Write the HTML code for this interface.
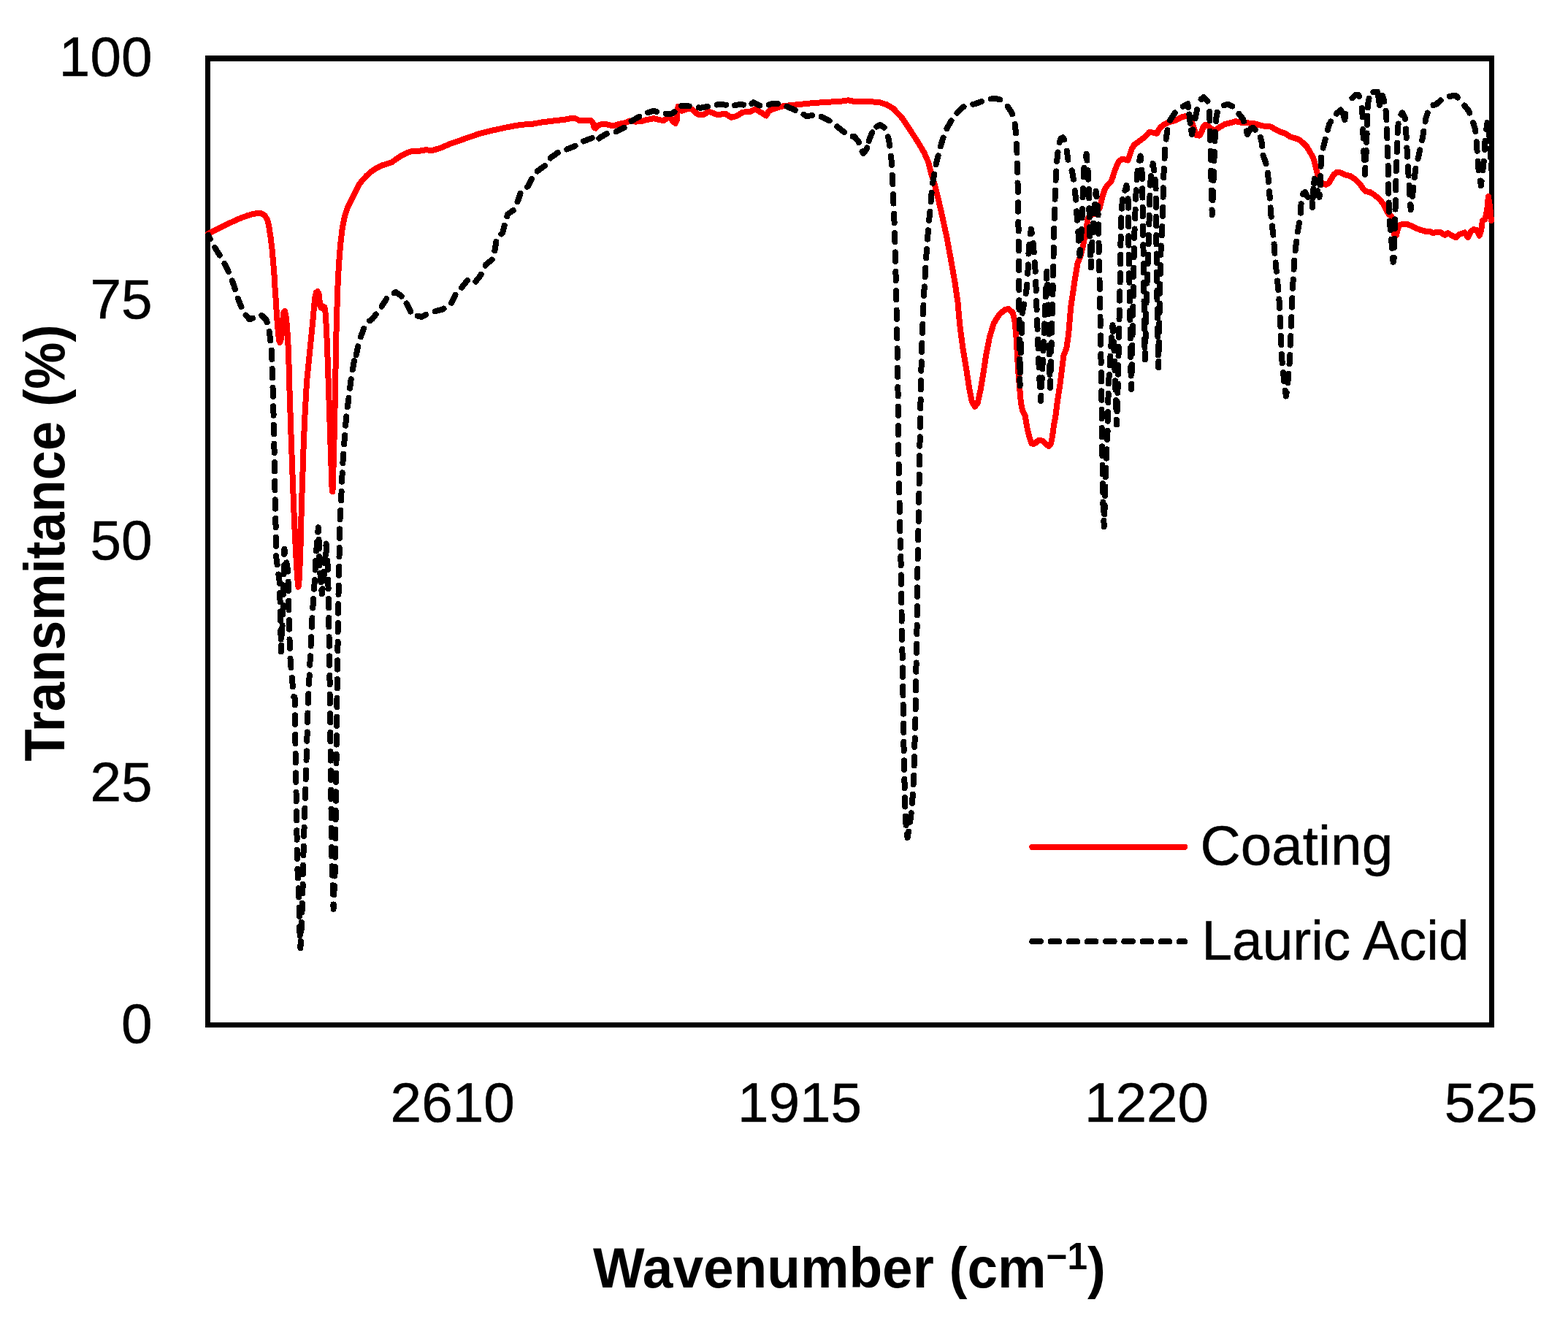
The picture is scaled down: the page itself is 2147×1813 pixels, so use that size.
<!DOCTYPE html>
<html lang="en">
<head>
<meta charset="utf-8">
<title>FTIR transmittance spectra</title>
<style>
html,body{margin:0;padding:0;background:#fff;}
body{width:2147px;height:1813px;overflow:hidden;}
svg{display:block;}
</style>
</head>
<body>
<svg width="2147" height="1813" viewBox="0 0 2147 1813" role="img" aria-label="FTIR transmittance spectra of coating and lauric acid">
<rect x="0" y="0" width="2147" height="1813" fill="#fff"/>
<g fill="#000" shape-rendering="crispEdges"><rect x="281" y="76" width="1765" height="8"/><rect x="281" y="1400" width="1765" height="7"/><rect x="281" y="76" width="7" height="1331"/><rect x="2039" y="76" width="7" height="1331"/></g>
<g fill="none" stroke-linejoin="round" stroke-linecap="round" shape-rendering="crispEdges">
<path d="M285.2 320.1L297.2 313.9L311.6 306.7L327.4 299.5L337.4 295.7L346.1 293.1L353.2 291.9L358.3 292.4L362.6 295.2L366.2 301.0L368.3 310.3L370.5 324.7L372.6 341.9L374.1 359.1L375.5 376.4L376.5 393.6L377.7 410.8L378.8 428.1L379.8 442.4L381.0 456.8L382.2 466.9L383.4 469.0L385.1 464.0L386.3 451.1L387.3 436.7L388.4 427.4L389.9 425.9L391.3 430.9L392.7 443.9L393.7 458.2L394.6 474.0L395.3 487.0L395.7 508.7L396.6 537.4L398.5 594.9L400.6 652.3L402.8 709.8L404.9 753.1L407.2 791.9L408.5 803.6L409.8 791.9L411.4 753.1L412.8 695.4L414.3 652.3L415.7 609.2L417.6 566.2L420.0 523.1L424.3 479.8L426.5 458.2L428.6 436.7L430.1 419.5L431.5 406.5L432.9 400.5L434.8 399.1L436.5 402.2L437.4 409.4L438.1 418.0L439.7 421.6L442.3 419.5L444.4 420.6L445.9 430.9L446.9 451.1L448.0 472.6L448.9 501.5L449.7 523.1L451.6 580.5L453.0 623.6L454.5 666.7L455.2 673.2L455.9 666.7L456.9 623.6L458.1 580.5L459.2 523.1L460.2 465.4L461.2 429.5L462.4 393.6L463.8 364.9L466.0 336.2L468.8 311.8L472.4 294.5L476.7 282.3L482.5 271.5L490.7 254.2L496.0 247.0L502.0 240.6L507.5 235.6L513.4 231.5L519.0 228.4L524.7 225.9L530.0 224.4L536.1 222.4L541.5 218.6L547.4 214.5L553.0 211.4L558.7 208.8L564.5 206.8L571.5 207.2L583.0 205.3L592.6 205.9L604.0 202.4L615.5 197.3L627.0 193.4L640.4 188.5L655.7 183.3L674.9 178.5L694.0 174.3L713.2 170.8L728.5 169.9L741.9 167.4L761.1 165.1L774.5 163.6L782.1 161.8L787.9 162.2L793.6 165.1L801.3 165.5L808.9 165.1L811.8 168.0L813.7 174.7L815.6 175.6L818.5 171.8L824.2 169.9L831.9 170.5L839.6 172.4L847.2 169.9L854.9 168.5L862.5 165.5L870.2 166.6L877.9 166.1L885.5 164.1L895.1 162.2L902.7 164.1L908.5 165.1L914.2 161.3L918.1 160.3L920.9 166.1L924.8 168.9L926.7 165.1L927.6 153.6L928.6 146.0L933.4 151.7L939.1 150.2L940.0 147.9L947.7 149.8L955.3 156.5L963.0 157.1L970.6 152.7L982.1 157.1L993.6 155.9L1001.3 160.9L1007.0 159.4L1012.8 156.5L1016.6 153.6L1026.2 153.2L1033.8 149.4L1041.5 153.6L1049.1 158.4L1053.0 151.7L1062.5 147.9L1074.0 145.0L1093.2 143.1L1112.3 141.2L1131.5 139.8L1150.6 138.9L1161.2 137.3L1169.8 138.9L1188.9 138.9L1204.2 140.2L1213.8 143.1L1223.4 148.8L1234.9 161.3L1246.4 178.5L1255.9 192.9L1265.5 209.1L1271.3 222.5L1275.1 237.9L1279.9 253.2L1284.7 272.3L1290.4 297.2L1296.2 324.0L1301.9 354.7L1307.6 387.2L1311.5 414.0L1312.8 429.6L1314.7 448.7L1318.5 477.4L1323.3 506.2L1327.1 531.1L1330.9 550.2L1334.8 556.9L1338.6 552.1L1342.4 534.9L1346.3 511.9L1350.1 487.0L1354.9 462.1L1360.6 443.0L1368.3 430.5L1375.9 424.2L1380.7 422.9L1386.5 427.7L1389.3 439.1L1391.3 458.3L1392.8 483.2L1394.1 506.2L1396.1 531.1L1398.0 552.1L1399.9 561.7L1403.7 569.4L1406.6 586.6L1409.5 598.1L1412.1 606.9L1414.9 608.0L1417.9 606.7L1421.4 603.3L1424.4 602.6L1428.3 604.1L1432.6 608.4L1436.0 611.0L1439.0 607.6L1440.7 599.0L1442.0 590.3L1443.3 580.0L1444.9 573.2L1447.8 550.2L1451.6 525.3L1454.5 502.3L1456.4 487.0L1460.2 477.4L1463.1 458.3L1466.2 420.6L1471.3 386.2L1475.6 360.3L1479.1 351.7L1483.4 334.5L1486.8 317.2L1489.4 300.0L1492.0 295.3L1500.6 291.8L1505.8 284.9L1509.2 270.3L1512.7 259.1L1516.1 253.9L1521.3 248.8L1523.9 241.9L1526.5 233.2L1529.1 227.2L1532.5 220.3L1536.8 217.7L1541.1 218.6L1544.6 219.5L1547.2 211.7L1549.7 203.9L1553.2 197.9L1557.5 195.3L1567.8 187.4L1573.5 181.1L1580.4 181.7L1583.9 182.8L1588.5 174.8L1594.2 170.2L1601.1 167.3L1610.3 164.5L1618.3 160.4L1624.1 158.7L1628.7 161.0L1632.1 167.9L1635.6 178.3L1637.9 185.1L1642.5 185.7L1645.3 180.6L1647.6 173.7L1650.5 170.8L1653.9 172.5L1658.5 176.0L1663.1 179.4L1668.9 174.8L1676.9 170.2L1683.8 168.5L1691.9 166.2L1697.6 167.3L1700.0 167.8L1709.2 168.4L1718.4 169.5L1728.7 172.4L1740.2 173.5L1746.0 177.0L1752.8 180.4L1759.7 182.7L1766.6 187.3L1772.4 189.0L1778.1 190.8L1783.9 195.4L1789.6 201.1L1794.2 209.1L1797.7 214.9L1800.5 224.1L1802.8 233.3L1805.1 242.5L1808.0 248.2L1811.4 251.7L1816.0 252.8L1819.5 250.5L1822.9 244.8L1826.4 239.0L1831.0 235.6L1836.7 236.7L1842.5 239.6L1849.4 241.3L1856.2 245.9L1862.0 251.7L1866.6 258.5L1870.0 262.0L1875.8 263.1L1881.5 266.6L1888.4 272.3L1894.2 279.2L1897.2 285.7L1901.5 293.4L1905.0 296.0L1906.7 302.0L1907.6 313.2L1909.3 321.9L1911.9 321.9L1914.0 313.2L1916.2 308.1L1920.5 306.8L1926.5 306.8L1931.7 308.9L1938.6 312.4L1945.5 315.0L1953.2 317.1L1958.4 317.1L1962.7 319.3L1967.0 317.5L1973.1 318.4L1978.2 321.9L1982.5 319.3L1987.7 322.3L1993.7 325.3L1998.0 321.0L2005.8 318.4L2010.1 325.3L2013.6 317.5L2017.9 314.1L2022.2 315.0L2025.6 322.7L2028.2 315.8L2029.9 302.0L2033.4 300.3L2036.1 288.3L2037.9 269.1L2040.1 283.1L2042.0 302.0L2042.0 299.5" stroke="#f00" stroke-width="8"/>
<path d="M285.2 321.8L287.9 327.4M294.2 339L298.7 346.2L300.7 349.5M307.4 360.9L311.6 369.2L312.8 372M317.8 384.3L320.2 390.7L321.8 396M325.8 408.6L329.5 418L330.4 420.1M336.6 431.6L341.8 437.4L346.1 435.7M358.2 431.8L364.7 438.1L365.6 441.3M368.7 454.1L370.2 465.4L370.3 466.4M371.9 479.6L371.9 479.8L372.3 491.9M372.7 505.1L373.1 517.5M373.5 530.7L373.9 543.1M374.2 556.3L374.5 566.2L374.6 568.7M374.8 581.9L375.1 594.3M375.4 607.5L375.4 609.2L375.6 619.9M375.8 633.1L376.1 645.5M376.3 658.7L376.5 671.1M376.7 684.3L376.9 695.4L376.9 696.7M377.3 709.9L377.6 722.3M377.8 735.5L377.8 747.9M378 761.1L379.6 773.4M381.4 786.5L382.7 796.2L382.8 798.8M383.2 812L383.6 824.4M384 837.6L384.1 839.2L384.2 850M384.4 863.2L384.6 875.6M384.8 888.8L384.8 892.4L385.2 883.6M386 868.6L386.6 856.2M387.3 841.2L387.4 839.2L387.6 828.8M388 813.8L388.3 801.4M388.6 786.3L388.9 774M389.2 758.9L389.4 751.6L390.2 756.6M392.4 770.4L394.2 781.8L394.2 782.6M394.6 796.5L394.9 808.9M395.2 822.9L395.5 835.3M395.8 849.2L396.1 861.6M396.5 875.5L396.8 887.9M397.5 901.8L398.5 914.1M399.8 928L400.9 940.4M402.2 954.1L403.5 954.4L403.7 965.5M403.9 979.4L404.1 991.8M404.3 1005.7L404.5 1018.1M404.7 1032.1L404.9 1044.5M405.1 1058.4L405.3 1070.8M405.5 1084.7L405.7 1097.1M406 1111L406.1 1123.4M406.4 1137.3L406.6 1149.7M406.8 1163.7L407 1176.1M407.4 1190L408 1202.4M408.7 1216.3L409.2 1227.4L409.2 1228.6M409.6 1242.6L409.9 1255M410.3 1268.9L410.6 1281.3M411.2 1295.2L411.4 1298.2L411.9 1288.8M412.5 1275.2L412.9 1262.8M413.5 1249.2L413.9 1236.8M414.4 1223.1L414.6 1210.7M414.8 1197.1L415 1184.7M415.4 1171L415.8 1158.6M416.2 1145L416.6 1132.6M417 1119L417.4 1106.6M417.9 1092.9L418.2 1080.5M418.7 1066.9L419.1 1054.5M419.5 1040.8L419.9 1028.4M420.3 1014.8L420.7 1002.4M421.1 988.8L421.5 976.4M421.9 962.7L422.2 954.4L422.4 950.3M423.1 936.7L423.7 924.3M424.3 910.7L424.9 898.3M425.6 884.6L426.2 872.3M426.9 858.6L427.5 846.2M428.3 832.6L429.2 820.2M430.1 806.6L430.8 796.2L430.9 794.2M431.6 780.6L432.2 768.2M433.2 754.6L434.1 742.2M435.3 728.6L435.8 722.2L436.1 728.1M436.5 738.9L436.8 745.9L436.9 751.3M437.2 762L437.5 774.4M438.4 785.1L439.4 796.2L439.5 797.5M440.4 808.2L440.8 813.4L441.7 806.3M443.1 794.9L444 782.6M444.9 771.2L445.2 767.4L445.7 758.8M446.4 747.4L446.6 744.5L447.3 754M448.2 767.7L448.7 774.6L448.9 780.1M449.2 793.8L449.5 803.3L449.6 806.2M449.8 820L450.1 832.4M450.3 846.1L450.4 858.5M450.6 872.3L450.8 884.7M450.9 898.4L451.1 910.8M451.4 924.6L451.6 937M451.7 950.8L451.9 963.2M452 976.9L452.2 989.3M452.3 1003.1L452.5 1015.5M452.6 1029.2L452.8 1041.6M452.9 1055.4L453.1 1067.8M453.2 1081.5L453.4 1093.9M453.5 1107.7L453.7 1120.1M453.8 1133.9L454 1146.3M454.2 1160L454.3 1172.4M454.5 1186.2L454.5 1190L454.9 1198.6M455.5 1212.3L455.5 1213.1L455.9 1224.7M456.4 1238.4L456.6 1244.7L456.8 1238.6M457.3 1225.3L457.8 1213.1L457.8 1212.9M458.4 1199.6L458.8 1190L458.8 1187.2M459 1173.9L459.1 1161.5M459.3 1148.1L459.4 1135.7M459.6 1122.4L459.7 1110M459.9 1096.7L460 1084.3M460.2 1071L460.3 1058.6M460.5 1045.3L460.6 1032.9M460.8 1019.6L460.9 1007.2M461.1 993.9L461.2 981.5M461.4 968.2L461.5 955.8M461.7 942.4L461.7 940L461.8 930M462 916.7L462.2 904.3M462.4 891L462.6 878.6M462.7 865.3L462.9 852.9M463.1 839.6L463.1 839.2L463.3 827.2M463.5 813.9L463.8 801.5M464 788.2L464.2 775.8M464.5 762.5L464.7 750.1M464.9 736.8L465.1 724.4M465.5 711.1L466.3 698.7M467.1 685.4L467.6 673M468.1 659.7L468.1 659.5L468.7 647.3M469.4 634L469.6 630.8L470.3 621.6M471.2 608.4L471.7 602.1L472.2 596M473.2 582.7L473.9 573.3L474.3 570.4M475.9 557.2L477.5 544.9M479.1 531.7L480.7 519.3M482.8 506.2L485 494M487.6 486.4L490.3 474.3M493.9 461.4L494 461.1L498.2 449.8M506.2 439.3L509.8 436.7L514.7 430.5M522.6 419.7L522.7 419.5L529.2 409.2M539.6 401.2L542.1 400.1L548.5 404.4L549.8 405.8M556.6 415.4L557.9 418L562.1 426.5M571.7 432.7L577.3 433.8L583.3 430.9M595.7 426.4L606 423.6L607.5 422.6M618 414.8L623.5 403.7M632.1 393.7L632.8 393L639.9 384.1M651.3 385.6L657.7 377.6L658.7 375.7M664.6 363.8L665.3 362.3L673.7 355.6M677.4 343.3L677.8 341.3L679.3 331M686.4 320.4L688.3 318.3L690.7 309M694.2 296.2L695 293.4L702.8 288.1M708.5 276.3L709.4 274.2L712.6 264.6M722 255.7L722.8 255.1L727.9 244.9M735.9 234.4L736.2 234L745.9 227M753.9 216.5L754.4 215.8L763.7 209.1M776.1 204.5L776.4 204.4L787.5 199.8M799.1 193.4L799.3 193.3L810.7 189M820.3 189.6L822.3 188.1L830.8 183M843.6 180.3L854.7 174.8M864.6 166L874 160.3L875.3 159.7M887.2 154.1L895.1 151.7L899.1 153M911.9 155.8L920 155.5L923.5 153.1M933.2 145L941 145L940 145L943.6 145.4M956.7 147.4L959.1 147.9L968.8 145.8M981.8 143.5L984 143.1L994.2 143.6M1005.9 144.3L1007 143.7L1016.6 143.1L1018.1 143.6M1029.5 142L1031.9 140.2L1039.6 144.4L1040.2 144.5M1052.7 143.5L1054.9 142.5L1064.9 142.2M1077.4 145.8L1077.9 146L1087.4 150.2L1088.8 150.8M1100.5 156.8L1104.7 159.4L1112 157.9M1124.7 160L1125.7 160.3L1135.8 165.4M1146.3 173.3L1146.8 173.7L1156 181.1M1167.6 186.8L1169.8 187.1L1175.5 193.8L1175.9 195.1M1180.6 207.4L1182.2 210.1L1187 203.4L1187.2 202.4M1189.7 192.8L1189.9 191.9L1193.7 182.3L1194.3 181.3M1200.3 173.6L1205.2 170.8L1210.7 174.7M1215.9 187.5L1216.7 190L1218.3 199.6M1219.9 213.5L1220.5 218.7L1220.9 225.9M1221.8 239.8L1221.9 241.7L1222.3 252.2M1222.9 266.2L1223 268.5L1223.5 278.6M1224.1 292.6L1224.3 297.2L1224.6 305M1225.1 319L1225.3 325.9L1225.4 331.4M1225.7 345.4L1225.9 352.8L1226 357.8M1226.4 371.7L1226.6 379.6L1226.7 384.1M1227 398.1L1227.2 406.4L1227.3 410.5M1227.6 424.5L1227.8 436.9M1228 450.9L1228.3 463.3M1228.5 477.3L1228.5 477.4L1228.7 489.7M1229 503.7L1229.2 516.1M1229.4 530.1L1229.5 534.9L1229.6 542.5M1229.7 556.5L1229.8 568.9M1229.9 582.9L1230 592.3L1230 595.3M1230.2 609.3L1230.4 621.7M1230.6 635.7L1230.8 648.1M1231.1 662.1L1231.3 674.5M1231.6 688.5L1231.9 700.9M1232.2 714.9L1232.4 727.3M1232.7 741.3L1232.9 749.9L1232.9 746.1M1233 743.4L1233 740L1233.2 749M1233.4 762L1233.6 774.4M1233.8 787.4L1234 797.4L1234 799.8M1234.2 812.8L1234.3 825.2M1234.5 838.2L1234.6 850.6M1234.9 863.6L1235.1 876M1235.4 889L1235.7 901.4M1235.9 914.4L1236.1 926.8M1236.3 939.8L1236.5 952.2M1236.7 965.2L1236.9 977L1236.9 977.6M1237.1 990.6L1237.3 1003M1237.4 1016L1237.6 1027.4L1237.6 1028.4M1237.9 1041.4L1238.2 1053.8M1238.4 1066.8L1238.7 1079.2M1239 1092.2L1239.3 1104.6M1239.7 1117.6L1239.8 1120.8L1240.6 1129.9M1241.8 1142.9L1241.9 1144.5L1242.6 1146.9L1244.1 1138.8M1246.1 1125.6L1247.7 1113.6L1247.7 1113.3M1248.9 1100L1249.8 1089.2L1249.9 1087.6M1250.6 1074.3L1251.2 1063.3L1251.2 1061.9M1251.6 1048.5L1252 1036.1M1252.3 1022.8L1252.7 1010.4M1253 997L1253.4 984.7M1253.6 971.3L1253.8 958.9M1254 945.5L1254.1 941.1L1254.2 933.1M1254.4 919.8L1254.6 907.4M1254.9 894L1255.1 881.6M1255.4 868.3L1255.6 855.9M1255.7 842.5L1255.8 830.1M1255.9 816.8L1256 804.6L1256 804.4M1256.2 791L1256.5 778.6M1256.7 765.3L1256.9 752.9M1257.2 739.5L1257.4 727.1M1257.7 713.8L1257.9 701.4M1258.2 688L1258.4 675.6M1258.6 662.2L1258.8 649.8M1259 636.5L1259.1 630.6L1259.2 624.1M1259.4 610.7L1259.7 598.3M1259.9 585L1260.1 573.2L1260.1 572.6M1260.3 559.2L1260.6 546.8M1260.8 533.5L1261 521.1M1261.4 507.7L1261.7 495.3M1262.2 482L1262.5 469.6M1263 456.2L1263.4 443.8M1263.9 430.5L1263.9 429.6L1264.5 418.1M1265.1 404.8L1265.5 396.8L1265.8 392.4M1266.6 379L1267.3 366.7M1268.1 353.3L1269 341M1269.9 327.6L1271 315.3M1272.1 302L1272.2 301.1L1273.3 289.6M1274.6 276.3L1275.6 264M1277.2 250.7L1278.9 239.8L1279.1 238.5M1281.6 225.4L1281.8 224.5L1284.6 213.3M1288 200.4L1290.4 191.9L1291.6 188.5M1296.5 176.1L1301.9 166.1L1302.5 165.3M1310.5 154.6L1318.2 146.9L1319.6 146.3M1332.2 142.7L1334.4 142.5L1344 139M1356.9 135.5L1357 135.5L1364 135L1369.1 136.4M1379.8 145.7L1385.8 155.3L1386.1 156.3M1389.7 170.2L1391.1 182.5M1391.9 196.9L1392.5 209.3M1392.9 223.7L1393.2 236.1M1393.5 250.5L1393.8 262.9M1394.1 277.3L1394.2 289.7M1394.4 304.1L1394.6 316.5M1394.8 330.9L1395 343.3M1395.1 357.7L1395.2 370.1M1395.2 384.5L1395.3 396.9M1395.4 411.3L1395.5 423.7M1395.6 438.1L1395.7 450.5M1395.8 464.9L1395.8 470L1395.9 477.3M1396.1 491.7L1396.2 504.1M1396.4 518.5L1396.6 528L1396.7 525.1M1397 510.3L1397.2 500L1397.3 497.9M1397.8 483.1L1398.3 470.7M1398.8 455.9L1399.3 443.5M1399.9 428.7L1402 416.5M1404.6 401.9L1405.8 394.8L1406.2 389.6M1407.2 374.8L1407.6 368.9L1407.8 362.4M1408.4 347.6L1408.4 347.4L1409.4 335.2M1410.9 320.5L1411.9 313.8L1412.8 319.4M1414.7 333.1L1415.7 345.5M1416.8 359.4L1417.5 368.9L1417.6 371.8M1418.3 385.7L1418.3 386.2L1418.7 398.1M1419.2 412L1419.6 424.4M1420.1 438.3L1420.6 450.7M1421.1 464.7L1421.6 477M1422.2 491L1422.5 500L1422.7 503.4M1423.3 517.3L1423.9 529.7M1424.7 543.6L1425 549L1425.4 542M1426.1 529.8L1426.7 517.4M1427.3 505.1L1427.5 500L1427.9 492.7M1428.5 480.4L1429.1 468M1429.7 455.8L1430 450L1430.2 443.4M1430.7 431.1L1431.2 418.7M1431.7 406.4L1432.3 394M1432.9 381.7L1433.4 372L1433.5 374.7M1434.2 389.9L1434.8 402.3M1435.4 417.5L1435.7 429.9M1436.1 445.2L1436.2 450L1436.4 457.6M1436.7 472.9L1436.9 485.3M1437.2 500.5L1437.5 512.9M1437.9 528.2L1438 531L1438.2 521.4M1438.6 507.7L1438.8 500L1438.9 495.3M1439.3 481.6L1439.7 469.3M1440 455.6L1440.2 450L1440.4 443.2M1440.8 429.5L1441.1 417.1M1441.4 403.4L1441.7 391M1441.9 377.3L1442 373.2L1442.2 364.9M1442.5 351.2L1442.7 338.8M1442.9 325.1L1443.3 312.7M1443.8 299L1443.8 297.9L1444.1 286.6M1444.5 272.9L1445 260.5M1445.5 246.9L1445.5 246.2L1446.3 234.5M1447.2 220.8L1447.2 220.3L1448.5 208.5M1450.6 195L1450.7 194.5L1452.8 189.3L1455.4 188.3L1457.2 191.3M1460.7 206.6L1461 208.3L1461.9 215.1L1462.5 218.8M1467.6 233.5L1467.9 234.1L1469.9 245.6M1471.7 261.3L1471.8 261.7L1473.1 272L1473.2 273.6M1474.1 289.3L1474.8 297.9L1475.1 301.6M1476.3 317.3L1476.5 320L1477.1 329.7M1478.2 345.4L1478.5 350L1479.1 342.3M1480.1 326.5L1480.5 320L1480.8 314.1M1481.5 298.4L1481.9 286M1482.5 270.3L1483 257.9M1483.7 242.1L1484.5 229.7M1486.8 214.2L1487.7 210.8L1488.5 219.6M1489.6 233.2L1490.2 245.6M1490.8 259.2L1491.2 271.5M1491.4 285.2L1491.6 293.6L1491.7 297.5M1492 311.2L1492.2 320L1492.3 323.6M1492.7 337.2L1493 349.5M1493.6 363.1L1493.7 366.5L1494.1 357.5M1494.8 344L1495.4 331.6M1496.2 318.1L1497.1 305.7M1498.2 292.3L1499.3 280.6L1499.3 279.9M1500.3 266.5L1500.6 261.7L1501.6 269.3M1503.2 282.1L1503.6 294.5M1504 307.4L1504.1 310L1504.1 317.2L1504.2 319.8M1504.5 332.7L1504.7 345.1M1505 358.1L1505.3 370.5M1505.5 383.4L1505.8 395.8M1506.1 408.7L1506.3 421.1M1506.5 434.1L1506.6 446.5M1506.9 459.4L1507.1 471.8M1507.4 484.7L1507.5 491.7L1507.6 497.1M1507.8 510.1L1508 522.5M1508.3 535.4L1508.4 543.4L1508.4 547.8M1508.5 560.8L1508.6 573.2M1508.7 586.1L1508.8 597.2L1508.8 598.5M1509 611.4L1509.3 623.8M1509.5 636.8L1509.7 648.9L1509.7 649.2M1509.9 662.1L1510.2 674.5M1510.4 687.4L1510.5 692L1510.8 699.8M1511.4 712.8L1511.7 721.3L1511.8 717.5M1512.3 704.3L1512.7 692L1512.7 691.9M1513.1 678.8L1513.5 666.4M1513.9 653.2L1514 648.9L1514.4 640.8M1514.9 627.7L1515.5 615.3M1516 602.1L1516.6 589.8M1516.8 576.6L1517.1 564.2M1517.4 551.1L1517.6 538.7M1517.9 525.5L1518.8 513.1M1519.6 500L1520.4 487.6M1521.3 474.5L1522.2 462.1M1523.2 449L1523.5 445.2L1524 453.8M1524.8 468L1525.5 480L1525.5 480.4M1526.1 494.7L1526.5 507.1M1527 521.4L1527.4 533.7M1527.9 548L1528.3 560L1528.3 560.4M1528.8 574.7L1529 581.5L1529.2 575.9M1529.7 563.1L1529.8 560L1530 550.7M1530.4 537.9L1530.7 525.5M1530.9 512.6L1531.2 500.2M1531.5 487.4L1531.7 475M1532 462.2L1532.2 449.8M1532.5 437L1532.6 430L1532.7 424.6M1533 411.7L1533.3 400L1533.3 399.3M1533.6 386.5L1533.8 374.1M1534.1 361.3L1534.2 348.9M1534.4 336L1534.5 331L1534.6 323.6M1534.8 310.8L1535 302L1535.2 298.4M1536.1 285.6L1536.9 273.2M1540.4 260.9L1542.5 254L1543.1 259.1M1544.5 272.2L1544.8 275L1544.9 284.6M1545 297.8L1545.2 310.2M1545.3 323.3L1545.4 331L1545.5 335.7M1545.7 348.9L1545.9 361.3M1546.2 374.4L1546.5 386.8M1546.8 400L1546.8 400L1547 412.4M1547.2 425.5L1547.4 437.9M1547.6 451.1L1547.8 463.5M1548 476.6L1548.1 489M1548.3 502.2L1548.6 514.6M1548.9 527.8L1549 533L1549.2 525.9M1549.5 511.7L1549.8 500L1549.8 499.3M1550.1 485.1L1550.3 472.7M1550.6 458.6L1550.8 450L1550.9 446.2M1551.2 432L1551.4 419.6M1551.7 405.5L1551.8 400L1551.9 393.1M1552.2 378.9L1552.4 366.5M1552.6 352.4L1552.8 340M1553.2 325.8L1553.6 313.4M1554.2 299.3L1554.5 290L1554.6 286.9M1555.2 272.7L1555.7 260.3M1556.7 246.2L1557.5 235L1557.7 233.9M1560.3 219.9L1561.5 213.5L1562 219.3M1563.3 232.6L1563.5 235L1563.8 245M1564.2 258.2L1564.3 260L1564.5 270.6M1564.7 283.9L1564.8 296.3M1565 309.6L1565.2 322M1565.4 335.3L1565.5 340L1565.6 347.7M1565.8 361.1L1565.9 373.4M1566.1 386.8L1566.3 399.2M1566.5 412.5L1566.6 424.9M1566.8 438.2L1567 450L1567 450.6M1567.3 463.9L1567.5 476.3M1567.7 489.6L1567.8 492.5L1568 483M1568.4 468.6L1568.7 456.2M1569 441.7L1569.3 429.3M1569.6 414.8L1569.9 402.4M1570.5 387.9L1571 375.5M1571.6 361.1L1572.1 348.7M1572.6 334.2L1572.9 321.8M1573.4 307.3L1573.6 300L1573.7 294.9M1574.1 280.4L1574.5 268M1575.1 253.6L1575.9 241.2M1578.2 226.9L1578.7 224L1580.2 233.4M1581.7 246.2L1582.6 258.5M1582.8 271.5L1582.9 283.9M1583 296.8L1583 300L1583.1 309.2M1583.3 322.1L1583.4 334.5M1583.6 347.4L1583.8 359.8M1583.9 372.7L1584.1 385.1M1584.3 398L1584.3 400L1584.5 410.4M1584.7 423.3L1584.9 435.7M1585.2 448.7L1585.2 450L1585.4 461.1M1585.6 474L1585.9 486.4M1586.1 499.3L1586.2 503.3L1586.4 494.9M1586.6 480.9L1586.9 468.5M1587.1 454.5L1587.2 450L1587.4 442.1M1587.7 428.1L1588 415.7M1588.3 401.7L1588.3 400L1588.5 389.3M1588.8 375.3L1589.1 362.9M1589.4 348.9L1589.6 340L1589.8 336.5M1590.7 322.5L1591.4 310.1M1592 296.1L1592.3 283.7M1592.6 269.7L1592.8 257.3M1593.2 243.3L1593.8 230.9M1594.5 216.9L1595.1 204.5M1596.6 190.6L1598.5 178.3M1602.1 164.8L1602.2 164.5L1608.9 154.5M1619.8 145.8L1624.1 143.2L1626.4 142.1L1627.1 146.9M1628.4 156.5L1629.7 168.8M1631.2 178.4L1632.1 184L1633.5 177.4M1636.6 162.3L1639 150.7L1639.1 150.2M1644.6 136L1644.8 135.7L1648.2 132.9L1653.3 138.5M1656.1 152.7L1656.2 153L1656.5 165.1M1656.9 179.6L1657.2 192M1657.6 206.6L1657.9 219M1658.3 233.5L1658.5 244.9L1658.5 245.9M1658.9 260.5L1659.1 267.9L1659.2 272.9M1659.5 287.5L1659.7 294.3L1659.9 288.7M1660.5 274.1L1660.8 267.9L1661 261.8M1661.5 247.2L1662 234.8M1662.4 220.2L1662.8 207.8M1663.4 193.2L1664 180.8M1665 166.2L1665.4 161L1666.8 153.9M1675.9 144.4L1681.5 142.6L1687.3 145.5L1687.3 145.5M1696.4 155.9L1702.2 163.3L1703.1 166.2M1706.9 179.4L1707.9 184L1712.5 176L1716 174.8L1718.7 177.8M1725.9 188L1728.1 196.6L1728.2 200.1M1729.5 212.7L1732.1 219.6L1733.5 224.4M1736 236.8L1736.7 244.9L1737 249.2M1738 261.9L1738.4 267.9L1738.5 266.6L1738.8 271.6M1739.6 284.4L1740.6 296.7M1741.9 309.4L1743.4 321.7M1744.5 334.4L1745.5 346.8M1746.6 359.5L1747.8 371.8M1749.1 384.5L1750.3 396.8M1751.4 409.5L1752.1 421.9M1752.8 434.6L1753.4 447M1753.9 459.8L1754 462.3L1754.4 472.1M1754.9 484.9L1755.1 490L1755.8 497.2M1757 509.9L1757.5 515L1758.3 522.3M1759.8 534.9L1759.8 535L1761 542.5L1761.7 537.8M1763.3 524.4L1764.2 515L1764.4 512M1765.5 498.5L1766.1 490L1766.3 486.1M1766.8 472.6L1767.2 462.3L1767.3 460.2M1767.9 446.7L1768.4 434.3M1768.9 420.7L1769.4 408.3M1770 394.8L1770.7 382.4M1771.5 368.9L1772.2 356.5M1773.6 343L1775.1 330.7M1777 317.3L1779 305.1M1781 291.7L1781 285L1781.6 279.3M1784.2 266.1L1784.4 265.2L1786.9 262.9L1789.5 268L1790.9 269.9M1796.7 277.2L1797.1 283.9L1797.3 278.3M1797.6 270.9L1797.9 262.3L1798.4 258.5M1799.2 251.1L1800 244.8L1801.6 250.6M1804.1 261.4L1805.3 266.9L1806.6 270L1806.8 266.6M1807.7 253.4L1807.9 251L1808.2 241.1M1808.5 227.9L1809.1 215.5M1811.6 202.6L1814.7 190.6M1818 177.9L1820 170.3L1822.2 166.3M1829.9 155.7L1830.3 155.2L1835.9 150.5L1837.7 154.6M1839.8 159.7L1841.4 164L1842.4 156.3M1851.5 134.2L1855.7 130.2L1859.7 129.8L1861.1 132M1864.8 148.1L1865.6 157.6L1865.7 160.4M1866.3 177.2L1866.4 181.4L1866.7 189.6M1867.3 206.4L1867.6 213.2L1867.9 218.8M1868.6 235.6L1868.8 239L1869.4 230M1870.1 218.6L1870.4 213.2L1870.7 206.2M1871.1 194.8L1871.6 182.4M1871.9 171L1872.4 158.6M1872.9 147.3L1873.2 141.7L1874.5 135M1880.4 126.3L1885.9 125.5L1887 132.2M1887.7 136.1L1889 144.1L1890.2 140M1892 134.1L1893 130.6L1895.4 139M1897.5 151.6L1898.2 157.6L1898.5 164M1899 176.8L1899.4 189.2M1899.8 201.9L1900.2 214.3M1900.6 227.1L1900.6 227.5L1900.8 239.5M1901.1 252.3L1901.3 264.7M1901.6 277.5L1902 289.9M1902.6 302.6L1903.9 315M1905.1 327.7L1906.1 340.1M1907.1 352.8L1907.6 358.9L1908.8 352.7M1909.2 338.9L1909.5 326.6M1909.8 312.8L1910.1 300.4M1910.5 286.6L1910.6 283.1L1910.8 274.2M1911.1 260.4L1911.3 250L1911.4 248M1911.9 234.2L1912.1 229L1912.3 221.8M1912.8 208L1912.9 205.2L1913.2 195.6M1913.7 181.9L1913.7 181.4L1914.6 169.5M1918.5 156.7L1920 154.4L1924 161.6L1924.1 163M1925.1 176.5L1925.2 177.5L1925.7 188.9M1926.4 202.4L1927.1 214.7M1927.9 228.2L1927.9 229L1928.6 240.6M1929.5 254.1L1930.3 266.5M1931.2 280L1931.7 287.4L1932.3 282.5M1933.9 268.9L1934.3 265.8L1935.3 256.6M1936.9 243.1L1938.3 230.8M1941.5 217.5L1942 215.5L1944.2 205.4M1947.1 192.1L1948.1 187.9L1949.2 179.9M1951.6 166.5L1952.4 162L1954.7 154.5M1962.5 144L1966.2 143.1L1972.6 137.4M1984.8 132L1985.1 131.9L1992.9 130.6L1996 133.5M2005.2 144.5L2011 151.7L2012.2 154.6M2017.2 168L2019.6 175.8L2020.3 180M2021.8 194.3L2022.2 201.7L2022.6 206.7M2023.5 221L2023.9 227.5L2024.8 233.3M2027.1 247.5L2027.8 254.2L2028.6 248.6M2030.4 233L2031.7 220.7M2032.9 205L2033.4 194.8L2033.6 192.6M2035.2 177L2036.6 168.1L2037.3 171.4M2039 181.2L2039.9 193.6M2040.4 203.5L2041 215L2041.1 215.9M2041.6 225.8L2042 232" stroke="#000" stroke-width="8"/>
<line x1="1413.3" y1="1159.8" x2="1622.2" y2="1159.8" stroke="#f00" stroke-width="8"/>
<line x1="1413.3" y1="1289.2" x2="1622.2" y2="1289.2" stroke="#000" stroke-width="8" stroke-dasharray="11.6 13.6"/>
</g>
<g font-family="'Liberation Sans', sans-serif" font-size="76.5px" fill="#000" stroke="#000" stroke-width="0.5">
<text x="208.5" y="104.0" text-anchor="end">100</text>
<text x="208.5" y="435.5" text-anchor="end">75</text>
<text x="208.5" y="765.8" text-anchor="end">50</text>
<text x="208.5" y="1096.5" text-anchor="end">25</text>
<text x="208.5" y="1427.5" text-anchor="end">0</text>
<text x="619.7" y="1536.3" text-anchor="middle">2610</text>
<text x="1095.0" y="1536.3" text-anchor="middle">1915</text>
<text x="1570.0" y="1536.3" text-anchor="middle">1220</text>
<text x="2041.5" y="1536.3" text-anchor="middle">525</text>
<text x="1643.5" y="1184.2">Coating</text>
<text x="1645.5" y="1313.7" textLength="366" lengthAdjust="spacingAndGlyphs">Lauric Acid</text>
</g>
<g font-family="'Liberation Sans', sans-serif" font-size="77px" font-weight="bold" fill="#000">
<text id="ylab" transform="translate(88,743.5) rotate(-90)" text-anchor="middle" textLength="598" lengthAdjust="spacingAndGlyphs">Transmitance (%)</text>
<text id="xlab" x="1163" y="1762.5" text-anchor="middle" textLength="702" lengthAdjust="spacingAndGlyphs">Wavenumber (cm<tspan font-size="51px" dy="-24.8">−1</tspan><tspan dy="24.8">)</tspan></text>
</g>
</svg>
</body>
</html>
